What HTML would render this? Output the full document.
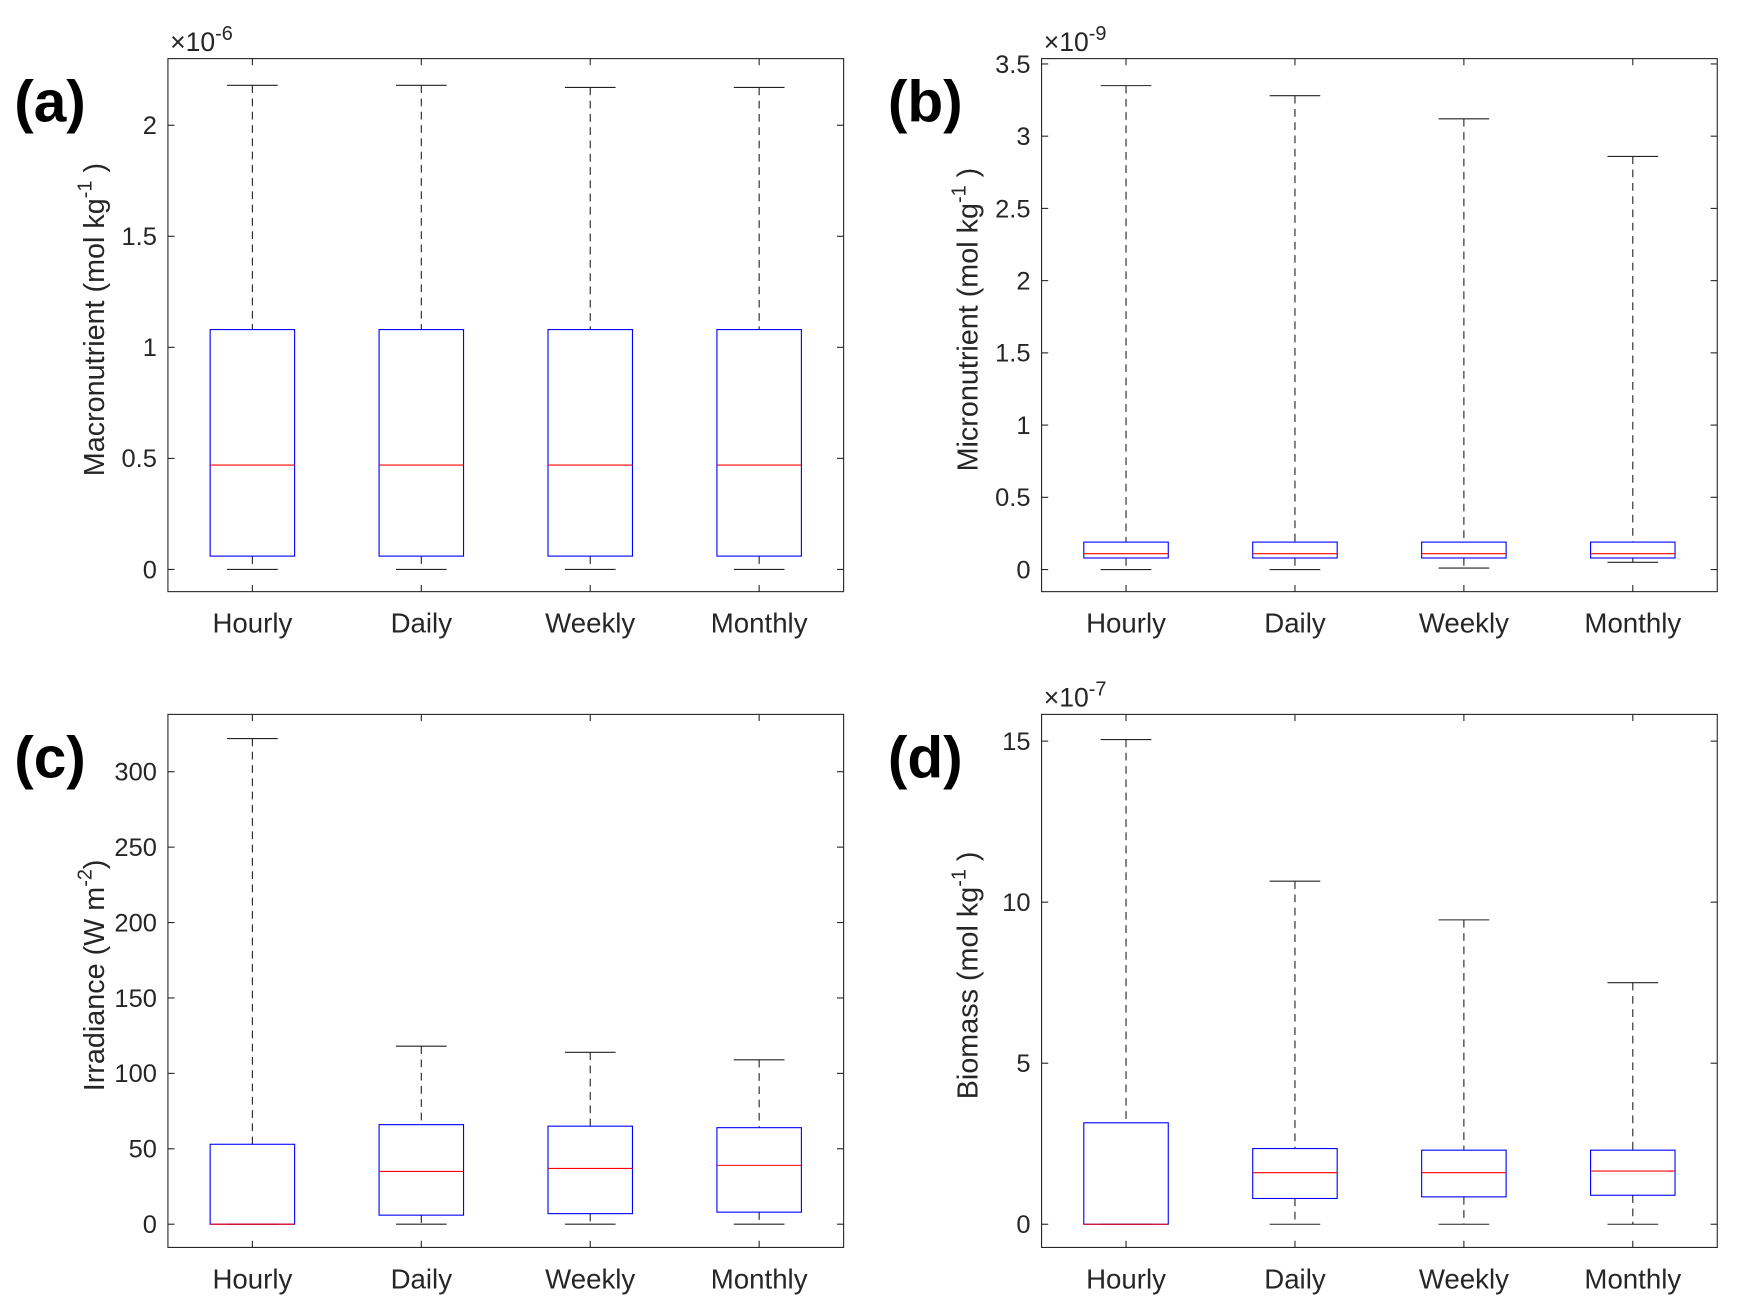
<!DOCTYPE html>
<html><head><meta charset="utf-8"><style>
html,body{margin:0;padding:0;background:#fff}
svg{display:block;font-family:"Liberation Sans",sans-serif}
</style></head><body>
<svg id="fig" width="1737" height="1316" viewBox="0 0 1567 1190" xmlns="http://www.w3.org/2000/svg"></svg>
<script>
const categories = ["Hourly","Daily","Weekly","Monthly"];
// panel a (x1e-6)
const aMax=[2.18,2.18,2.17,2.17], aQ3=[1.08,1.08,1.08,1.08], aMed=[0.47,0.47,0.47,0.47], aQ1=[0.06,0.06,0.06,0.06], aMin=[0,0,0,0];
// panel b (x1e-9)
const bMax=[3.35,3.28,3.12,2.86], bQ3=[0.19,0.19,0.19,0.19], bMed=[0.11,0.11,0.11,0.11], bQ1=[0.08,0.08,0.08,0.08], bMin=[0,0,0.01,0.05];
// panel c
const cMax=[322,118,114,109], cQ3=[53,66,65,64], cMed=[0,35,37,39], cQ1=[0,6,7,8], cMin=[0,0,0,0];
// panel d (x1e-7)
const dMax=[15.05,10.65,9.45,7.5], dQ3=[3.15,2.35,2.3,2.3], dMed=[0,1.6,1.6,1.65], dQ1=[0,0.8,0.85,0.9], dMin=[0,0,0,0];
const aTicks=["0","0.5","1","1.5","2"], bTicks=["0","0.5","1","1.5","2","2.5","3","3.5"], cTicks=["0","50","100","150","200","250","300"], dTicks=["0","5","10","15"];

const NS="http://www.w3.org/2000/svg";
const svg=document.getElementById("fig");
function mk(tag,attrs,parent,text){const e=document.createElementNS(NS,tag);for(const k in attrs)e.setAttribute(k,attrs[k]);if(text!==undefined)e.textContent=text;(parent||svg).appendChild(e);return e;}

function panel(id,x0,y0,w,h,ymin,ymax,ticks,mx,q3,md,q1,mn,letter,ylabel,sup,expo){
  const g=mk("g",{});
  
  
  const X=v=>x0+(v-0.5)/4*w;
  const Y=v=>y0+h-(v-ymin)/(ymax-ymin)*h;
  const ax=mk("rect",{x:x0,y:y0,width:w,height:h,fill:"none",stroke:"#262626","stroke-width":1},g);
  
  
  ticks.forEach(t=>{const y=Y(parseFloat(t));
    mk("line",{x1:x0,x2:x0+6,y1:y,y2:y,stroke:"#262626"},g);
    mk("line",{x1:x0+w,x2:x0+w-6,y1:y,y2:y,stroke:"#262626"},g);
    const tl=mk("text",{x:x0-10,y:y+8,"text-anchor":"end","font-size":23,fill:"#262626"},g,t);
    
    
  });
  categories.forEach((c,i)=>{const x=X(i+1);
    mk("line",{x1:x,x2:x,y1:y0+h,y2:y0+h-6,stroke:"#262626"},g);
    mk("line",{x1:x,x2:x,y1:y0,y2:y0+6,stroke:"#262626"},g);
    const tl=mk("text",{x:x,y:y0+h+37,"text-anchor":"middle","font-size":25,fill:"#262626"},g,c);
    
    
    const bg=mk("g",{},g);
    
    
    const hw=0.25*w/4, cw=0.15*w/4;
    mk("line",{x1:x,x2:x,y1:Y(mx[i]),y2:Y(q3[i]),stroke:"#222","stroke-dasharray":"7,5"},bg);
    mk("line",{x1:x,x2:x,y1:Y(q1[i]),y2:Y(mn[i]),stroke:"#222","stroke-dasharray":"7,5"},bg);
    mk("line",{x1:x-cw,x2:x+cw,y1:Y(mx[i]),y2:Y(mx[i]),stroke:"#222"},bg);
    mk("line",{x1:x-cw,x2:x+cw,y1:Y(mn[i]),y2:Y(mn[i]),stroke:"#222"},bg);
    mk("rect",{x:x-hw,y:Y(q3[i]),width:2*hw,height:Math.max(0.5,Y(q1[i])-Y(q3[i])),fill:"none",stroke:"#0000ff"},bg);
    mk("line",{x1:x-hw,x2:x+hw,y1:Y(md[i]),y2:Y(md[i]),stroke:"#ff0000"},bg);
  });
  const L=mk("text",{x:x0-139,y:y0+57,"font-size":53,"font-weight":"bold",fill:"#000"},g,"("+letter+")");
  
  
  const cy=y0+h/2-5;
  const yl=mk("text",{transform:`translate(${x0-58},${cy}) rotate(-90)`,"text-anchor":"middle","font-size":26,fill:"#262626"},g);
  
  
  mk("tspan",{},yl,ylabel);
  if(sup){mk("tspan",{dy:-11,"font-size":18},yl,sup[0]);mk("tspan",{dy:11},yl,sup[1]);}
  if(expo){const e=mk("text",{x:x0+2,y:y0-7,"font-size":24,fill:"#262626"},g);
    
    
    mk("tspan",{},e,"×10");mk("tspan",{dy:-10,"font-size":18},e,expo);}
}
panel("a",150,53,611,482,-0.1,2.3,aTicks,aMax,aQ3,aMed,aQ1,aMin,"a","Macronutrient (mol kg",["-1"," )"],"-6");
panel("b",940,53,611,482,-0.153,3.537,bTicks,bMax,bQ3,bMed,bQ1,bMin,"b","Micronutrient (mol kg",["-1"," )"],"-9");
panel("c",150,646,611,482,-15.4,338,cTicks,cMax,cQ3,cMed,cQ1,cMin,"c","Irradiance (W m",["-2",")"],null);
panel("d",940,646,611,482,-0.72,15.83,dTicks,dMax,dQ3,dMed,dQ1,dMin,"d","Biomass (mol kg",["-1"," )"],"-7");
</script>
</body></html>
